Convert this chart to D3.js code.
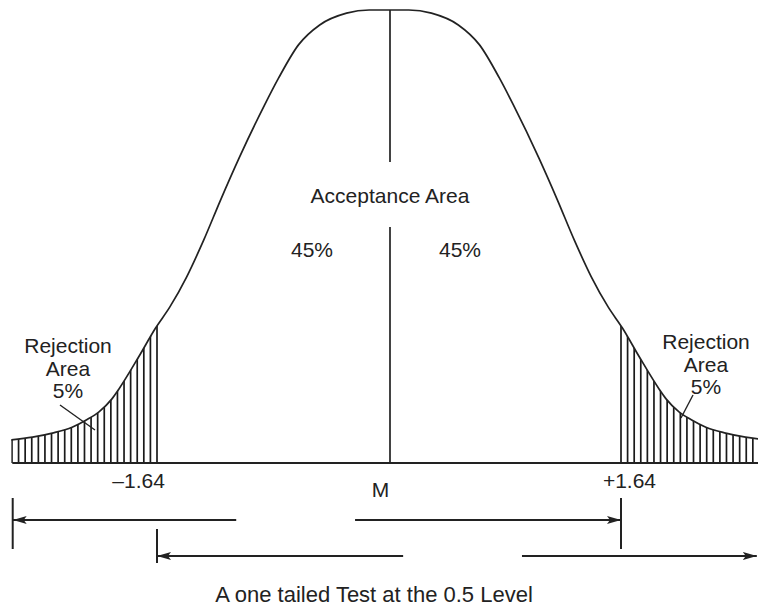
<!DOCTYPE html>
<html>
<head>
<meta charset="utf-8">
<script src="https://cdn.jsdelivr.net/npm/d3@7/dist/d3.min.js"></script>
<style>
  body { margin: 0; background: #fff; }
  svg text { font-family: "Liberation Sans", Arial, sans-serif; font-size: 21px; fill: #222; }
</style>
</head>
<body>
<script>
// curve: z (sigma units, left half) and height as share of the peak
var curveZ = [-2.67, -2.52, -2.38, -2.24, -2.14, -2.05, -1.96, -1.91, -1.77, -1.65, -1.55,
              -1.43, -1.31, -1.19, -1.06, -0.88, -0.78, -0.64, -0.49, -0.30, -0.14, 0];
var curveH = [0.051, 0.057, 0.066, 0.079, 0.095, 0.113, 0.141, 0.163, 0.234, 0.298, 0.344,
              0.411, 0.492, 0.581, 0.673, 0.790, 0.850, 0.923, 0.967, 0.993, 1, 1];

// critical values and tail limits
var critical = 1.64;
var tailEnd = 2.67;
var hatchStep = 0.0466;

// tick labels under the baseline
var tickLabels = [
  {z: -1.77, text: "\u20131.64"},
  {z: -0.06, text: "M"},
  {z: 1.70, text: "+1.64"}
];

// dimension arrows (z from, z to, arrowhead at start / end)
var arrowsRow1 = [
  {from: -2.66, to: -1.08, start: true, end: false},
  {from: -0.24, to: 1.64, start: false, end: true}
];
var arrowsRow2 = [
  {from: -1.64, to: 0.10, start: true, end: false},
  {from: 0.94, to: 2.60, start: false, end: true}
];

setChart();

function setChart(){
  var width = 758,
      height = 607;

  var svg = d3.select("body")
    .append("svg")
    .attr("width", width)
    .attr("height", height);

  var x = d3.scaleLinear()
    .domain([-critical, critical])
    .range([157, 621]);

  var y = d3.scaleLinear()
    .domain([0, 1])
    .range([463, 10]);

  // symmetric curve: left half + mirrored right half
  var points = curveZ.map(function(z, i){ return [z, curveH[i]]; });
  var right = points.slice(0, -1).reverse().map(function(p){ return [-p[0], p[1]]; });
  points = points.concat(right);

  var line = d3.line()
    .x(function(d){ return x(d[0]); })
    .y(function(d){ return y(d[1]); })
    .curve(d3.curveMonotoneX);

  var area = d3.area()
    .x(function(d){ return x(d[0]); })
    .y0(y(0))
    .y1(function(d){ return y(d[1]); })
    .curve(d3.curveMonotoneX);

  var defs = svg.append("defs");

  // clip for the hatching
  defs.append("clipPath")
    .attr("id", "under")
    .append("path")
    .attr("d", area(points));

  defs.append("marker")
    .attr("id", "head")
    .attr("viewBox", "0 0 14 8")
    .attr("refX", 14)
    .attr("refY", 4)
    .attr("markerWidth", 14)
    .attr("markerHeight", 8)
    .attr("markerUnits", "userSpaceOnUse")
    .attr("orient", "auto-start-reverse")
    .append("path")
    .attr("d", "M0,0L14,4L0,8L3,4Z")
    .attr("fill", "#222");

  // hatch lines in both tails
  var hatchZ = d3.range(-critical, -tailEnd, -hatchStep)
    .concat(d3.range(critical, tailEnd, hatchStep));

  svg.append("g")
    .attr("clip-path", "url(#under)")
    .selectAll("line")
    .data(hatchZ)
    .enter()
    .append("line")
    .attr("x1", function(d){ return x(d); })
    .attr("x2", function(d){ return x(d); })
    .attr("y1", y(0))
    .attr("y2", y(0.4))
    .attr("stroke", "#1a1a1a")
    .attr("stroke-width", 1.7);

  // the curve
  svg.append("path")
    .datum(points)
    .attr("d", line)
    .attr("fill", "none")
    .attr("stroke", "#222")
    .attr("stroke-width", 1.7);

  // baseline
  svg.append("line")
    .attr("x1", x(-tailEnd) + 1)
    .attr("x2", width)
    .attr("y1", y(0))
    .attr("y2", y(0))
    .attr("stroke", "#222")
    .attr("stroke-width", 2);

  // centre line, broken around the label
  var cx = x(0) + 1;
  [[y(1), 162], [227, y(0)]].forEach(function(s){
    svg.append("line")
      .attr("x1", cx).attr("x2", cx)
      .attr("y1", s[0]).attr("y2", s[1])
      .attr("stroke", "#222")
      .attr("stroke-width", 1.7);
  });

  // labels inside the curve
  svg.append("text").attr("x", 390).attr("y", 203).attr("text-anchor", "middle").text("Acceptance Area");
  svg.append("text").attr("x", 312).attr("y", 257).attr("text-anchor", "middle").text("45%");
  svg.append("text").attr("x", 460).attr("y", 257).attr("text-anchor", "middle").text("45%");

  // rejection labels
  var rej = [
    {cx: 68, top: 353, ptr: [[60, 405], [95, 430]]},
    {cx: 706, top: 349, ptr: [[693, 395], [681, 418]]}
  ];
  rej.forEach(function(r){
    ["Rejection", "Area", "5%"].forEach(function(t, i){
      svg.append("text")
        .attr("x", r.cx)
        .attr("y", r.top + i * 22.5)
        .attr("text-anchor", "middle")
        .text(t);
    });
    svg.append("line")
      .attr("x1", r.ptr[0][0]).attr("y1", r.ptr[0][1])
      .attr("x2", r.ptr[1][0]).attr("y2", r.ptr[1][1])
      .attr("stroke", "#222")
      .attr("stroke-width", 1.4);
  });

  // tick labels
  svg.selectAll(".tick-label")
    .data(tickLabels)
    .enter()
    .append("text")
    .attr("class", "tick-label")
    .attr("x", function(d){ return x(d.z); })
    .attr("y", function(d){ return d.text === "M" ? 497 : 488; })
    .attr("text-anchor", "middle")
    .text(function(d){ return d.text; });

  // dimension arrows
  function drawArrows(data, yPos){
    svg.append("g")
      .selectAll("line")
      .data(data)
      .enter()
      .append("line")
      .attr("x1", function(d){ return x(d.from); })
      .attr("x2", function(d){ return x(d.to); })
      .attr("y1", yPos)
      .attr("y2", yPos)
      .attr("stroke", "#222")
      .attr("stroke-width", 2)
      .attr("marker-start", function(d){ return d.start ? "url(#head)" : null; })
      .attr("marker-end", function(d){ return d.end ? "url(#head)" : null; });
  }
  drawArrows(arrowsRow1, 520);
  drawArrows(arrowsRow2, 556);

  // end ticks of the arrows
  var ticks = [
    {z: -2.66, y1: 498, y2: 549},
    {z: 1.64, y1: 498, y2: 549},
    {z: -1.64, y1: 529, y2: 563}
  ];
  svg.append("g")
    .selectAll("line")
    .data(ticks)
    .enter()
    .append("line")
    .attr("x1", function(d){ return x(d.z); })
    .attr("x2", function(d){ return x(d.z); })
    .attr("y1", function(d){ return d.y1; })
    .attr("y2", function(d){ return d.y2; })
    .attr("stroke", "#222")
    .attr("stroke-width", 2);

  // caption
  svg.append("text")
    .attr("x", 374)
    .attr("y", 602)
    .attr("text-anchor", "middle")
    .style("font-size", "22px")
    .text("A one tailed Test at the 0.5 Level");
}
</script>
</body>
</html>
